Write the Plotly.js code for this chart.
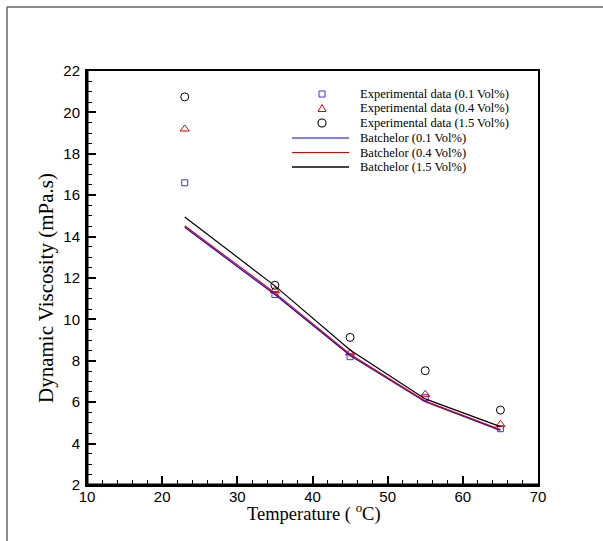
<!DOCTYPE html>
<html>
<head>
<meta charset="utf-8">
<script src="https://cdn.plot.ly/plotly-3.0.1.min.js"></script>
<style>
html,body{margin:0;padding:0;background:#fff;}
#chart{width:603px;height:541px;}
</style>
</head>
<body>
<div id="chart"></div>
<script>
// Data
const temperature = [23, 35, 45, 55, 65];
const exp01 = [16.6, 11.2, 8.2, 6.22, 4.72];
const exp04 = [19.2, 11.4, 8.38, 6.38, 4.93];
const exp15 = [20.75, 11.65, 9.13, 7.52, 5.62];
const bat01 = [14.45, 11.2, 8.26, 6.02, 4.64];
const bat04 = [14.52, 11.28, 8.32, 6.06, 4.68];
const bat15 = [14.95, 11.62, 8.52, 6.16, 4.82];
const seriesNames = [
  'Experimental data (0.1 Vol%)',
  'Experimental data (0.4 Vol%)',
  'Experimental data (1.5 Vol%)',
  'Batchelor (0.1 Vol%)',
  'Batchelor (0.4 Vol%)',
  'Batchelor (1.5 Vol%)'
];
const xTitle = 'Temperature ( <sup>o</sup>C)';
const yTitle = 'Dynamic Viscosity (mPa.s)';

const colors = ['#3333ff', '#e00000', '#000000', '#0000ff', '#e00000', '#000000'];

const traces = [
  {x: temperature, y: exp01, name: seriesNames[0], mode: 'markers', type: 'scatter',
   marker: {symbol: 'square-open', size: 6, color: colors[0], line: {width: 1}}},
  {x: temperature, y: exp04, name: seriesNames[1], mode: 'markers', type: 'scatter',
   marker: {symbol: 'triangle-up-open', size: 8, color: colors[1], line: {width: 1}}},
  {x: temperature, y: exp15, name: seriesNames[2], mode: 'markers', type: 'scatter',
   marker: {symbol: 'circle-open', size: 8, color: colors[2], line: {width: 1}}},
  {x: temperature, y: bat01, name: seriesNames[3], mode: 'lines', type: 'scatter',
   line: {color: colors[3], width: 1.2}},
  {x: temperature, y: bat04, name: seriesNames[4], mode: 'lines', type: 'scatter',
   line: {color: colors[4], width: 1.2}},
  {x: temperature, y: bat15, name: seriesNames[5], mode: 'lines', type: 'scatter',
   line: {color: colors[5], width: 1.2}}
];

// plot area geometry (pixels)
const W = 603, H = 541, L = 87, R = 65, T = 71, B = 56;
const pw = W - L - R, ph = H - T - B;
const px = v => (v - L) / pw;          // pixel x -> paper
const py = v => (H - B - v) / ph;      // pixel y -> paper

// custom legend (shapes + annotations), rows at these pixel y
const rowY = [94, 108.5, 123, 138, 152.5, 167];
const markX = 322, lineX0 = 292, lineX1 = 349, textX = 358;
const shapes = [];
const annotations = [];
// square
shapes.push({type: 'rect', xref: 'paper', yref: 'paper',
  x0: px(markX - 3), x1: px(markX + 3), y0: py(rowY[0] + 3), y1: py(rowY[0] - 3),
  line: {color: colors[0], width: 1}});
// triangle
{
  const cy = rowY[1];
  const p = `M ${px(markX - 4)} ${py(cy + 3)} L ${px(markX + 4)} ${py(cy + 3)} L ${px(markX)} ${py(cy - 4)} Z`;
  shapes.push({type: 'path', xref: 'paper', yref: 'paper', path: p, line: {color: colors[1], width: 1}});
}
// circle
shapes.push({type: 'circle', xref: 'paper', yref: 'paper',
  x0: px(markX - 4), x1: px(markX + 4), y0: py(rowY[2] + 4), y1: py(rowY[2] - 4),
  line: {color: colors[2], width: 1.1}});
for (let i = 3; i < 6; i++) {
  shapes.push({type: 'line', xref: 'paper', yref: 'paper',
    x0: px(lineX0), x1: px(lineX1), y0: py(rowY[i]), y1: py(rowY[i]),
    line: {color: i === 5 ? '#444' : colors[i], width: i === 5 ? 1.8 : 1.2}});
}
for (let i = 0; i < 6; i++) {
  annotations.push({xref: 'paper', yref: 'paper', x: px(textX), y: py(rowY[i]),
    xanchor: 'left', yanchor: 'middle', showarrow: false, text: seriesNames[i],
    font: {family: 'Liberation Serif, Times New Roman, serif', size: 12.5, color: '#000'}});
}
// axis titles
annotations.push({xref: 'paper', yref: 'paper', x: px(46), y: py(288),
  xanchor: 'center', yanchor: 'middle', showarrow: false, textangle: -90, text: yTitle,
  font: {family: 'Liberation Serif, Times New Roman, serif', size: 21, color: '#000'}});
annotations.push({xref: 'paper', yref: 'paper', x: px(314), y: py(512),
  xanchor: 'center', yanchor: 'middle', showarrow: false, text: xTitle,
  font: {family: 'Liberation Serif, Times New Roman, serif', size: 18.5, color: '#000'}});

// page border lines
shapes.push({type: 'line', xref: 'paper', yref: 'paper', x0: px(7), x1: px(603), y0: py(7), y1: py(7),
  line: {color: '#666', width: 1.5}});
shapes.push({type: 'line', xref: 'paper', yref: 'paper', x0: px(7), x1: px(7), y0: py(7), y1: py(541),
  line: {color: '#666', width: 1.5}});
// heavier left and bottom axis lines
shapes.push({type: 'line', xref: 'paper', yref: 'paper', x0: 0, x1: 0, y0: 0, y1: 1,
  line: {color: '#000', width: 3}});
shapes.push({type: 'line', xref: 'paper', yref: 'paper', x0: 0, x1: 1, y0: 0, y1: 0,
  line: {color: '#000', width: 3}});

const layout = {
  width: W, height: H,
  margin: {l: L, r: R, t: T, b: B, pad: 0},
  paper_bgcolor: '#ffffff', plot_bgcolor: '#ffffff',
  showlegend: false,
  xaxis: {
    range: [10, 70], dtick: 10, tick0: 10,
    ticks: 'inside', ticklen: 9, tickwidth: 2, tickcolor: '#000',
    minor: {dtick: 2, ticks: 'inside', ticklen: 5, tickwidth: 1, tickcolor: '#000'},
    showline: true, linewidth: 2, linecolor: '#000', mirror: true,
    showgrid: false, zeroline: false, ticklabelstandoff: -3,
    tickfont: {family: 'Liberation Sans, Arial, sans-serif', size: 15, color: '#000'}
  },
  yaxis: {
    range: [2, 22], dtick: 2, tick0: 2,
    ticks: 'inside', ticklen: 9, tickwidth: 2, tickcolor: '#000',
    minor: {dtick: 0.5, ticks: 'inside', ticklen: 5, tickwidth: 1, tickcolor: '#000'},
    showline: true, linewidth: 2, linecolor: '#000', mirror: true,
    showgrid: false, zeroline: false, ticklabelstandoff: 2,
    tickfont: {family: 'Liberation Sans, Arial, sans-serif', size: 15, color: '#000'}
  },
  shapes: shapes,
  annotations: annotations
};

Plotly.newPlot('chart', traces, layout, {displayModeBar: false, staticPlot: true});
</script>
</body>
</html>
